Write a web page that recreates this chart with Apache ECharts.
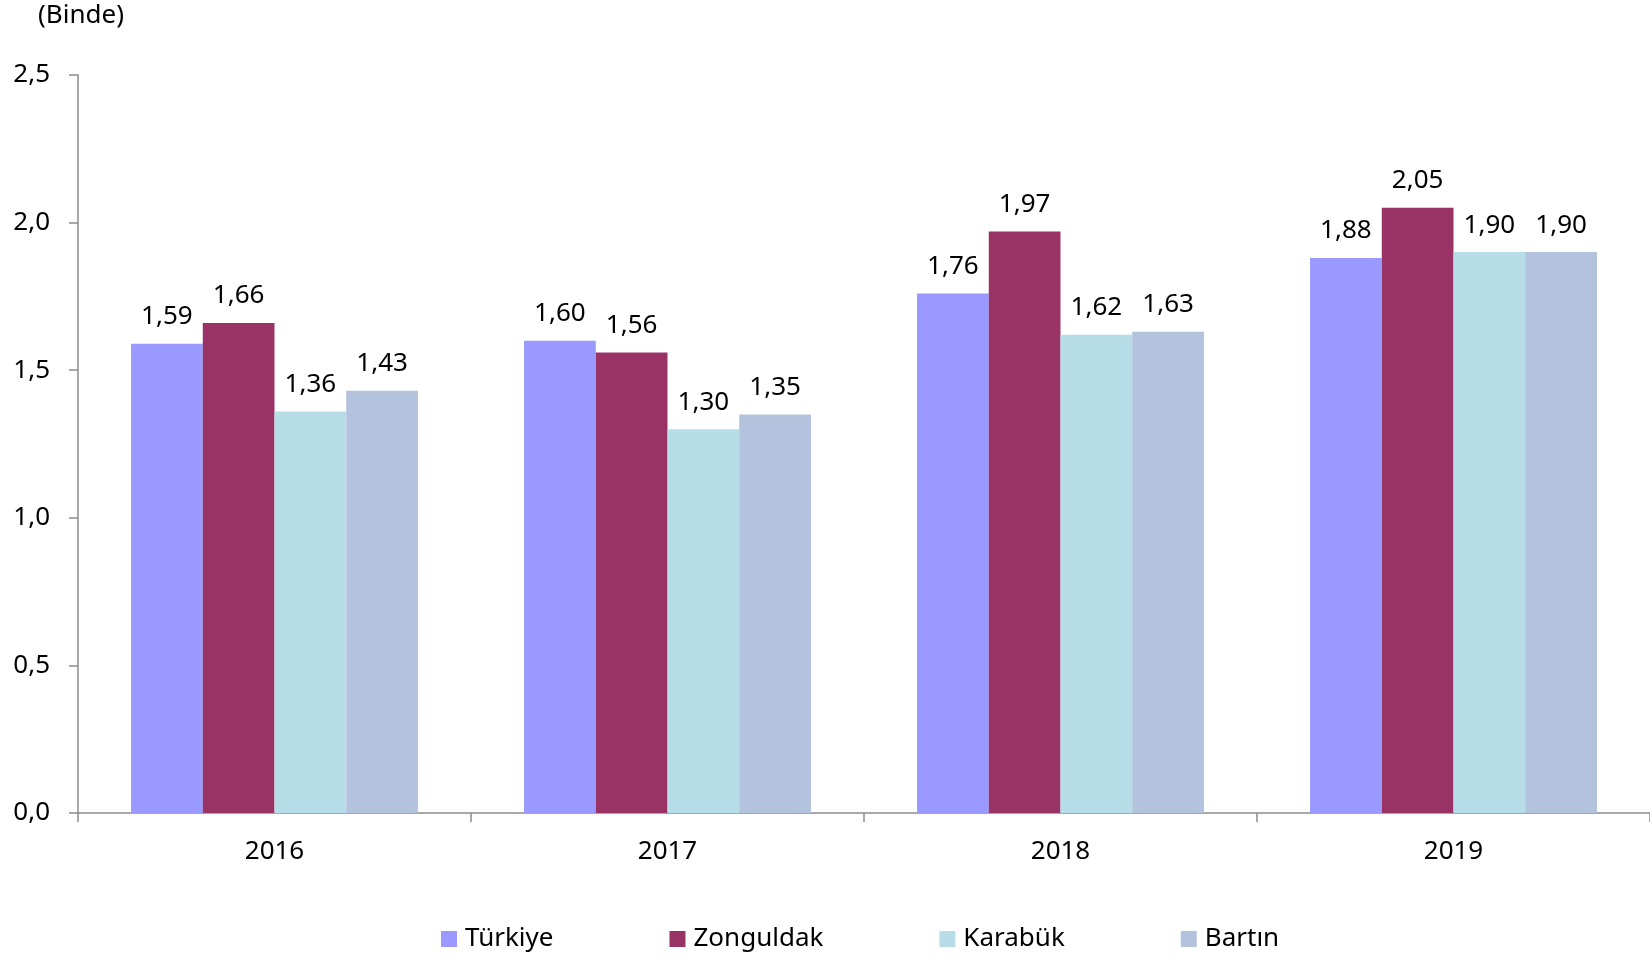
<!DOCTYPE html>
<html>
<head>
<meta charset="utf-8">
<script src="https://cdn.jsdelivr.net/npm/echarts@6/dist/echarts.min.js"></script>
<style>
  html, body { margin: 0; padding: 0; background: #fff; }
  #chart { width: 1650px; height: 957px; }
</style>
</head>
<body>
<div id="chart"></div>
<script>
var years = ['2016', '2017', '2018', '2019'];
var turkiye = [1.59, 1.60, 1.76, 1.88];
var zonguldak = [1.66, 1.56, 1.97, 2.05];
var karabuk = [1.36, 1.30, 1.62, 1.90];
var bartin = [1.43, 1.35, 1.63, 1.90];
var seriesNames = ['Türkiye', 'Zonguldak', 'Karabük', 'Bartın'];
var colors = ['#9999FF', '#993366', '#B7DEE8', '#B3C3DD'];

var font = 'Noto Sans';
var fmt2 = function (v) { return v.toFixed(2).replace('.', ','); };

function bar(name, data) {
  return {
    name: name,
    type: 'bar',
    data: data,
    barGap: '0%',
    barCategoryGap: '27%',
    label: {
      show: true,
      position: 'top',
      distance: 14,
      fontFamily: font,
      fontSize: 26,
      color: '#000',
      formatter: function (p) { return fmt2(p.value); }
    }
  };
}

var chart = echarts.init(document.getElementById('chart'));
chart.setOption({
  animation: false,
  color: colors,
  textStyle: { fontFamily: font },
  grid: { left: 78, right: 0, top: 75, bottom: 144 },
  graphic: [{
    type: 'text',
    left: 38,
    top: 3,
    style: { text: '(Binde)', font: '26px "Noto Sans"', fill: '#000' }
  }],
  legend: {
    bottom: 0,
    left: 436,
    itemWidth: 16,
    itemHeight: 16,
    itemGap: 116,
    icon: 'rect',
    textStyle: { fontFamily: font, fontSize: 26, color: '#000', padding: [0, 0, 0, 3] },
    data: seriesNames
  },
  xAxis: {
    type: 'category',
    data: years,
    axisLine: { lineStyle: { color: '#8c8c8c', width: 1.5 } },
    axisTick: { show: true, length: 9, lineStyle: { color: '#8c8c8c', width: 1.5 } },
    axisLabel: { fontFamily: font, fontSize: 26, color: '#000', margin: 26 }
  },
  yAxis: {
    type: 'value',
    min: 0,
    max: 2.5,
    interval: 0.5,
    splitLine: { show: false },
    axisLine: { show: true, lineStyle: { color: '#8c8c8c', width: 1.5 } },
    axisTick: { show: true, length: 9, lineStyle: { color: '#8c8c8c', width: 1.5 } },
    axisLabel: {
      fontFamily: font, fontSize: 26, color: '#000', margin: 28,
      formatter: function (v) { return v.toFixed(1).replace('.', ','); }
    }
  },
  series: [
    bar(seriesNames[0], turkiye),
    bar(seriesNames[1], zonguldak),
    bar(seriesNames[2], karabuk),
    bar(seriesNames[3], bartin)
  ]
});
</script>
</body>
</html>
